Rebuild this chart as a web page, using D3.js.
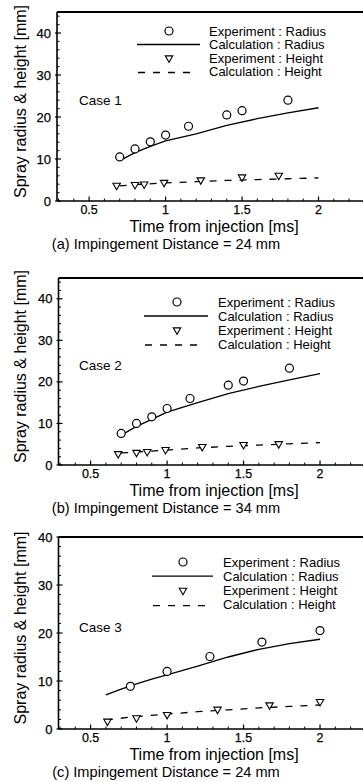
<!DOCTYPE html>
<html><head><meta charset="utf-8">
<script src="https://cdn.jsdelivr.net/npm/d3@7"></script>
<style>
html,body{margin:0;padding:0;background:#fff;}
svg text{font-family:"Liberation Sans",Arial,Helvetica,sans-serif;fill:#000;}
</style></head>
<body><svg id="c" width="363" height="782"></svg>
<script>
// ---- tick labels ----
const xTickValues = [0.5, 1, 1.5, 2];
const yTickValues = [0, 10, 20, 30, 40];
const xTickLabels = ["0.5", "1", "1.5", "2"];

// ---- Case 1 ----
const c1ExpRadiusT = [0.7, 0.8, 0.9, 1.0, 1.15, 1.4, 1.5, 1.8];
const c1ExpRadius  = [10.5, 12.4, 14.1, 15.7, 17.8, 20.5, 21.5, 24.0];
const c1CalcRadiusT = [0.7, 0.8, 0.9, 1.0, 1.2, 1.4, 1.6, 1.8, 2.0];
const c1CalcRadius  = [9.6, 11.5, 13.0, 14.3, 16.0, 18.0, 19.6, 21.0, 22.2];
const c1ExpHeightT = [0.68, 0.8, 0.86, 0.99, 1.23, 1.5, 1.74];
const c1ExpHeight  = [3.7, 3.9, 4.0, 4.4, 5.0, 5.7, 6.1];
const c1CalcHeightT = [0.7, 0.8, 1.0, 1.2, 1.4, 1.6, 1.8, 2.0];
const c1CalcHeight  = [3.6, 3.9, 4.3, 4.6, 4.9, 5.1, 5.3, 5.5];

// ---- Case 2 ----
const c2ExpRadiusT = [0.7, 0.8, 0.9, 1.0, 1.15, 1.4, 1.5, 1.8];
const c2ExpRadius  = [7.6, 10.0, 11.6, 13.6, 16.0, 19.2, 20.2, 23.3];
const c2CalcRadiusT = [0.7, 0.8, 0.9, 1.0, 1.2, 1.4, 1.6, 1.8, 2.0];
const c2CalcRadius  = [7.2, 9.3, 11.0, 12.7, 15.0, 17.2, 18.9, 20.5, 22.0];
const c2ExpHeightT = [0.68, 0.8, 0.87, 0.99, 1.23, 1.5, 1.73];
const c2ExpHeight  = [2.7, 3.0, 3.2, 3.7, 4.4, 4.9, 5.1];
const c2CalcHeightT = [0.7, 0.8, 1.0, 1.2, 1.4, 1.6, 1.8, 2.0];
const c2CalcHeight  = [2.9, 3.1, 3.6, 4.1, 4.5, 4.8, 5.1, 5.4];

// ---- Case 3 ----
const c3ExpRadiusT = [0.76, 1.0, 1.28, 1.62, 2.0];
const c3ExpRadius  = [8.9, 12.0, 15.1, 18.1, 20.5];
const c3CalcRadiusT = [0.6, 0.7, 0.8, 0.9, 1.0, 1.2, 1.4, 1.6, 1.8, 2.0];
const c3CalcRadius  = [7.1, 8.3, 9.4, 10.4, 11.3, 13.1, 15.0, 16.6, 17.8, 18.7];
const c3ExpHeightT = [0.61, 0.8, 1.0, 1.33, 1.67, 2.0];
const c3ExpHeight  = [1.6, 2.3, 3.0, 4.1, 5.0, 5.7];
const c3CalcHeightT = [0.6, 0.8, 1.0, 1.2, 1.4, 1.6, 1.8, 2.0];
const c3CalcHeight  = [1.9, 2.6, 3.1, 3.6, 4.0, 4.4, 4.7, 5.0];

const caseNames = ["Case 1", "Case 2", "Case 3"];
const captions = ["(a) Impingement Distance = 24 mm", "(b) Impingement Distance = 34 mm", "(c) Impingement Distance = 24 mm"];
const legendLabels = ["Experiment : Radius", "Calculation : Radius", "Experiment : Height", "Calculation : Height"];
const xTitle = "Time from injection [ms]";
const yTitle = "Spray radius & height [mm]";
const yMax = [45, 45, 40];

const zip = (t, v) => t.map((d, i) => [d, v[i]]);
const cases = [
  {er: zip(c1ExpRadiusT, c1ExpRadius), cr: zip(c1CalcRadiusT, c1CalcRadius), eh: zip(c1ExpHeightT, c1ExpHeight), ch: zip(c1CalcHeightT, c1CalcHeight)},
  {er: zip(c2ExpRadiusT, c2ExpRadius), cr: zip(c2CalcRadiusT, c2CalcRadius), eh: zip(c2ExpHeightT, c2ExpHeight), ch: zip(c2CalcHeightT, c2CalcHeight)},
  {er: zip(c3ExpRadiusT, c3ExpRadius), cr: zip(c3CalcRadiusT, c3CalcRadius), eh: zip(c3ExpHeightT, c3ExpHeight), ch: zip(c3CalcHeightT, c3CalcHeight)}
];

// ---- layout ----
const layout = [
  {top: 12, bottom: 201, dx: 0, leg: {sx: 169, l0: 137, l1: 200, tx: 209, y0: 31, dy: 13.5}, caseY: 100},
  {top: 278, bottom: 465, dx: 1.5, leg: {sx: 177, l0: 144, l1: 208, tx: 218, y0: 302, dy: 14}, caseY: 365},
  {top: 537, bottom: 729, dx: 1.5, leg: {sx: 183, l0: 152, l1: 213, tx: 223, y0: 562, dy: 14.2}, caseY: 627}
];

const svg = d3.select("#c");
const triangle = d3.symbol().type(d3.symbolTriangle).size(24);

layout.forEach((L, k) => {
  const c = cases[k];
  const g = svg.append("g");
  const x = d3.scaleLinear().domain([0.29, 2.3]).range([57 + L.dx, 364.4 + L.dx]);
  const y = d3.scaleLinear().domain([0, yMax[k]]).range([L.bottom, L.top]);
  const left = x(0.29);

  // frame lines
  g.append("line").attr("x1", left).attr("x2", 363).attr("y1", L.top).attr("y2", L.top)
    .attr("stroke", "#000").attr("stroke-width", 2);
  g.append("line").attr("x1", left).attr("x2", left).attr("y1", L.top).attr("y2", L.bottom)
    .attr("stroke", "#000").attr("stroke-width", 1.6);
  g.append("line").attr("x1", left).attr("x2", 363).attr("y1", L.bottom).attr("y2", L.bottom)
    .attr("stroke", "#000").attr("stroke-width", 1.6);

  // x ticks
  const xMinor = d3.range(3, 24).map(v => v / 10).filter(v => !xTickValues.includes(v));
  g.selectAll(".xm").data(xMinor).join("line")
    .attr("x1", d => x(d)).attr("x2", d => x(d)).attr("y1", L.bottom).attr("y2", L.bottom - 2.5)
    .attr("stroke", "#000").attr("stroke-width", 1);
  g.selectAll(".xM").data(xTickValues).join("line")
    .attr("x1", d => x(d)).attr("x2", d => x(d)).attr("y1", L.bottom).attr("y2", L.bottom - 4.5)
    .attr("stroke", "#000").attr("stroke-width", 1.2);
  g.selectAll(".xl").data(xTickValues).join("text")
    .attr("x", d => x(d)).attr("y", L.bottom + 9)
    .attr("text-anchor", "middle").attr("dominant-baseline", "central")
    .attr("font-size", 12.5).attr("stroke", "#000").attr("stroke-width", 0.25)
    .text((d, i) => xTickLabels[i]);

  // y ticks
  const yMinor = d3.range(0, yMax[k] + 0.01, 2).filter(v => !yTickValues.includes(v));
  g.selectAll(".ym").data(yMinor).join("line")
    .attr("x1", left).attr("x2", left + 2.5).attr("y1", d => y(d)).attr("y2", d => y(d))
    .attr("stroke", "#000").attr("stroke-width", 1);
  g.selectAll(".yM").data(yTickValues).join("line")
    .attr("x1", left - 2).attr("x2", left + 4).attr("y1", d => y(d)).attr("y2", d => y(d))
    .attr("stroke", "#000").attr("stroke-width", 1.2);
  g.selectAll(".yl").data(yTickValues).join("text")
    .attr("x", left - 6).attr("y", d => y(d))
    .attr("text-anchor", "end").attr("dominant-baseline", "central")
    .attr("font-size", 13).attr("stroke", "#000").attr("stroke-width", 0.25).text(d => d);

  // titles
  g.append("text").attr("x", 214).attr("y", L.bottom + 25)
    .attr("text-anchor", "middle").attr("dominant-baseline", "central")
    .attr("font-size", 16).text(xTitle);
  g.append("text").attr("x", 166).attr("y", L.bottom + 43)
    .attr("text-anchor", "middle").attr("dominant-baseline", "central")
    .attr("font-size", 14.6).text(captions[k]);
  const yc = (L.top + L.bottom) / 2 - 5;
  g.append("text").attr("transform", `translate(20,${yc}) rotate(-90)`)
    .attr("text-anchor", "middle").attr("dominant-baseline", "central")
    .attr("font-size", 16).text(yTitle);

  // case label
  g.append("text").attr("x", 79).attr("y", L.caseY)
    .attr("dominant-baseline", "central").attr("font-size", 13.5).text(caseNames[k]);

  // data lines
  const line = d3.line().x(d => x(d[0])).y(d => y(d[1]));
  g.append("path").attr("d", line(c.cr)).attr("fill", "none").attr("stroke", "#000").attr("stroke-width", 1.3);
  g.append("path").attr("d", line(c.ch)).attr("fill", "none").attr("stroke", "#000").attr("stroke-width", 1.3)
    .attr("stroke-dasharray", "7,8");

  // markers
  g.selectAll(".er").data(c.er).join("circle")
    .attr("cx", d => x(d[0])).attr("cy", d => y(d[1])).attr("r", 4)
    .attr("fill", "#fff").attr("stroke", "#000").attr("stroke-width", 1.2);
  g.selectAll(".eh").data(c.eh).join("path")
    .attr("d", triangle)
    .attr("transform", d => `translate(${x(d[0])},${y(d[1])}) rotate(180)`)
    .attr("fill", "#fff").attr("stroke", "#000").attr("stroke-width", 1.1);

  // legend
  const lg = L.leg;
  const ry = i => lg.y0 + i * lg.dy;
  g.append("circle").attr("cx", lg.sx).attr("cy", ry(0)).attr("r", 4)
    .attr("fill", "#fff").attr("stroke", "#000").attr("stroke-width", 1.2);
  g.append("line").attr("x1", lg.l0).attr("x2", lg.l1).attr("y1", ry(1)).attr("y2", ry(1))
    .attr("stroke", "#000").attr("stroke-width", 1.3);
  g.append("path").attr("d", triangle).attr("transform", `translate(${lg.sx},${ry(2)}) rotate(180)`)
    .attr("fill", "#fff").attr("stroke", "#000").attr("stroke-width", 1.1);
  g.append("line").attr("x1", lg.l0 + 1).attr("x2", lg.l1 - 5).attr("y1", ry(3) + 1).attr("y2", ry(3) + 1)
    .attr("stroke", "#000").attr("stroke-width", 1.3).attr("stroke-dasharray", "7,8");
  legendLabels.forEach((t, i) => {
    g.append("text").attr("x", lg.tx).attr("y", ry(i))
      .attr("dominant-baseline", "central").attr("font-size", 13).text(t);
  });
});
</script></body></html>
